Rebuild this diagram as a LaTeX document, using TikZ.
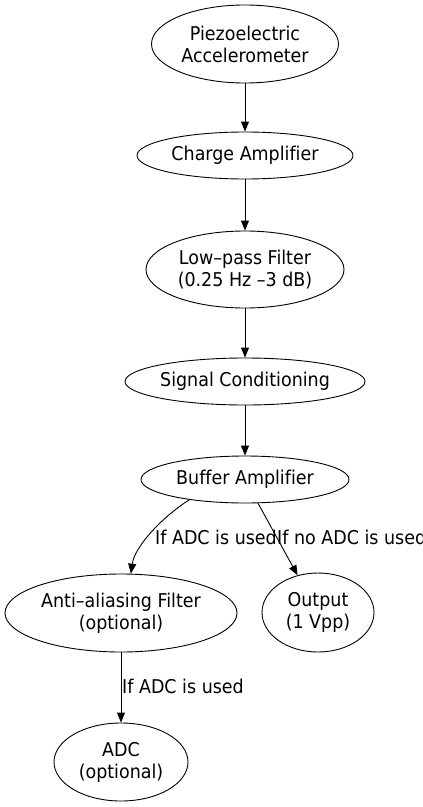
\documentclass[tikz,border=0pt]{standalone}
\usepackage{fontspec}
\setmainfont{DejaVu Sans}[FakeStretch=0.92,Ligatures=NoCommon]
\usetikzlibrary{shapes.geometric,arrows.meta}
\begin{document}
\begin{tikzpicture}[x=1bp,y=-1bp,
  every node/.style={font=\fontsize{19bp}{22bp}\selectfont},
  box/.style={ellipse,draw,line width=0.9bp,inner sep=0pt,align=center},
  edge/.style={draw,line width=0.9bp,-{Triangle[length=10bp,width=8bp]}},
  lbl/.style={anchor=base west,inner sep=0pt}]
\useasboundingbox (0,0) rectangle (422,807);
\node[box,minimum width=187bp,minimum height=78bp] (piezo) at (245,44) {Piezoelectric\\Accelerometer};
\node[box,minimum width=216bp,minimum height=47bp] (charge) at (245,155.5) {Charge Amplifier};
\node[box,minimum width=198bp,minimum height=77bp] (lowpass) at (245,269.5) {Low–pass Filter\\(0.25 Hz –3 dB)};
\node[box,minimum width=238bp,minimum height=47bp] (signal) at (245,381.5) {Signal Conditioning};
\node[box,minimum width=208bp,minimum height=47bp] (buffer) at (245,479.5) {Buffer Amplifier};
\node[box,minimum width=232bp,minimum height=78bp] (anti) at (121,613) {Anti–aliasing Filter\\(optional)};
\node[box,minimum width=112bp,minimum height=79bp] (output) at (318,612.5) {Output\\(1 Vpp)};
\node[box,minimum width=134bp,minimum height=78bp] (adc) at (121,762) {ADC\\(optional)};
\draw[edge] (piezo) -- (charge);
\draw[edge] (charge) -- (lowpass);
\draw[edge] (lowpass) -- (signal);
\draw[edge] (signal) -- (buffer);
\draw[edge] (buffer.200) .. controls (165,515) and (135,545) .. (anti.76);
\draw[edge] (buffer) -- (output);
\draw[edge] (anti) -- (adc);
\node[lbl] (l1) at (155,544) {If ADC is used};
\node[lbl] (l2) at (277,544) {If no ADC is used};
\node[lbl] (l3) at (122,693) {If ADC is used};
\end{tikzpicture}
\end{document}
